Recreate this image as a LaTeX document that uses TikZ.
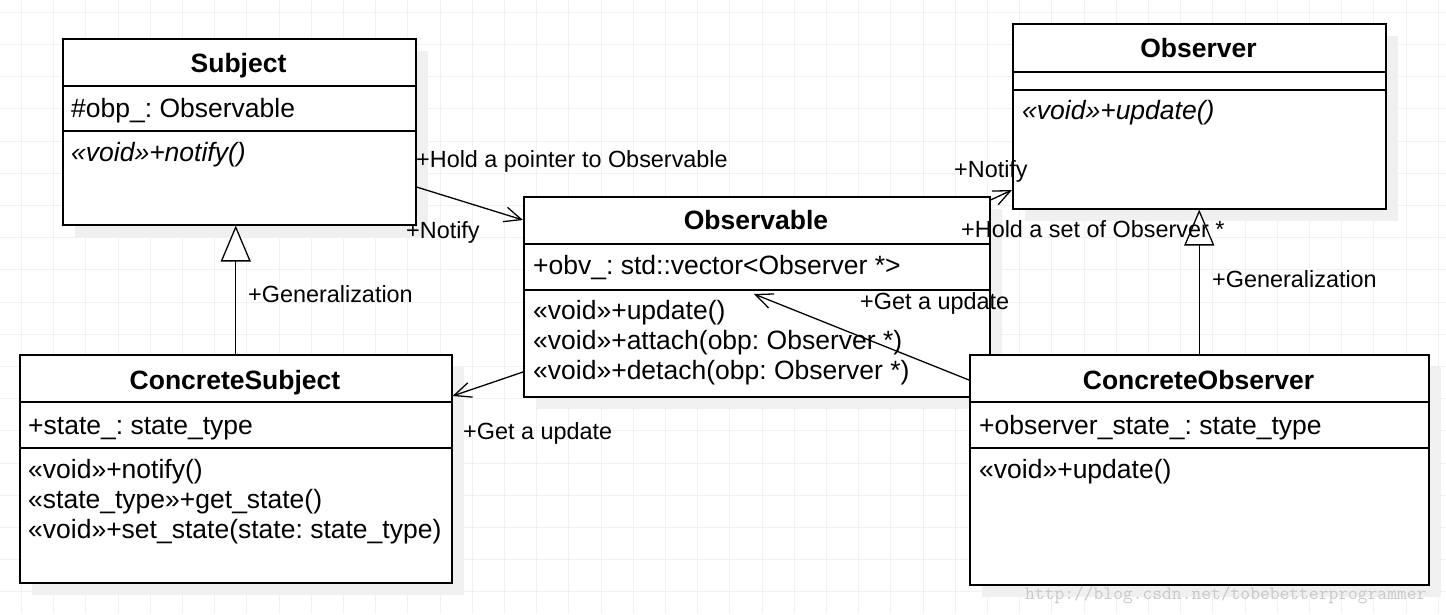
\documentclass[tikz,border=0pt]{standalone}
\usepackage{fontspec}
\setmainfont{Liberation Sans}
\usepackage{xcolor}
\usetikzlibrary{arrows.meta,shadows}
\frenchspacing
\definecolor{gridgray}{RGB}{241,241,241}
\definecolor{shadowgray}{RGB}{240,240,240}
\definecolor{wmgray}{RGB}{200,200,200}
\tikzstyle{cls} = [rectangle, draw, line width=1.5pt, fill=white, anchor=north west, inner sep=0pt, drop shadow={shadow xshift=12pt, shadow yshift=-12pt, fill=shadowgray, opacity=1}]
\tikzstyle{divider} = [draw, line width=1.5pt]
\tikzstyle{title} = [font=\fontsize{26.5}{30}\selectfont\bfseries, anchor=base, inner sep=0pt]
\tikzstyle{member} = [font=\fontsize{26.5}{30}\selectfont, anchor=base west, inner sep=0pt]
\tikzstyle{lbl} = [font=\fontsize{23.4}{28}\selectfont, anchor=base west, inner sep=0pt]
\tikzstyle{line} = [draw, line width=1.3pt, -{Straight Barb[length=17pt,width=15pt]}]
\tikzstyle{gen} = [draw, line width=1.3pt, -{Triangle[open,fill=white,length=36pt,width=30pt]}]
\tikzstyle{gridline} = [draw=gridgray, line width=1pt]

\begin{document}
\begin{tikzpicture}[x=1pt,y=-1pt]
\useasboundingbox (0,0) rectangle (1446,614);
\fill[white] (0,0) rectangle (1446,614);
% grid
\foreach \i in {0,...,44}
  \draw[gridline] (21.5+32.2*\i,0) -- (21.5+32.2*\i,614);
\foreach \j in {0,...,18}
  \draw[gridline] (0,12.3+32.2*\j) -- (1446,12.3+32.2*\j);

% Subject
\node [cls, minimum width=353pt, minimum height=186pt] (subject) at (62,38) {};
\path [divider] (subject.north west) ++(0,48) -- ++(353,0);
\path [divider] (subject.north west) ++(0,93) -- ++(353,0);
\node [title] (subjectT) at (238.5,72) {Subject};
\node [member] (subjectA) at (71,117) {\#obp\_: Observable};
\node [member, font=\fontsize{26.5}{30}\selectfont\itshape] (subjectM) at (71,161) {«void»+notify()};

% Observable
\node [cls, minimum width=466pt, minimum height=200pt] (observable) at (523,196) {};
\path [divider] (observable.north west) ++(0,48) -- ++(466,0);
\path [divider] (observable.north west) ++(0,94) -- ++(466,0);
\node [title] (observableT) at (756,229) {Observable};
\node [member] (observableA) at (533,274) {+obv\_: std::vector<Observer *>};
\node [member] (observableM1) at (533,319) {«void»+update()};
\node [member] (observableM2) at (533,349) {«void»+attach(obp: Observer *)};
\node [member] (observableM3) at (533,379) {«void»+detach(obp: Observer *)};

% Observer
\node [cls, minimum width=373pt, minimum height=185pt] (observer) at (1012,23) {};
\path [divider] (observer.north west) ++(0,49) -- ++(373,0);
\path [divider] (observer.north west) ++(0,67) -- ++(373,0);
\node [title] (observerT) at (1198.5,57) {Observer};
\node [member, font=\fontsize{26.5}{30}\selectfont\itshape] (observerM) at (1022,119) {«void»+update()};

% ConcreteSubject
\node [cls, minimum width=432pt, minimum height=228pt] (csubject) at (19,354) {};
\path [divider] (csubject.north west) ++(0,48) -- ++(432,0);
\path [divider] (csubject.north west) ++(0,94) -- ++(432,0);
\node [title] (csubjectT) at (235,389) {ConcreteSubject};
\node [member] (csubjectA) at (28,434) {+state\_: state\_type};
\node [member] (csubjectM1) at (28,478) {«void»+notify()};
\node [member] (csubjectM2) at (28,508) {«state\_type»+get\_state()};
\node [member] (csubjectM3) at (28,538) {«void»+set\_state(state: state\_type)};

% ConcreteObserver
\node [cls, minimum width=459pt, minimum height=230pt] (cobserver) at (969,354) {};
\path [divider] (cobserver.north west) ++(0,48) -- ++(459,0);
\path [divider] (cobserver.north west) ++(0,94) -- ++(459,0);
\node [title] (cobserverT) at (1198.5,389) {ConcreteObserver};
\node [member] (cobserverA) at (979,434) {+observer\_state\_: state\_type};
\node [member] (cobserverM) at (979,478) {«void»+update()};

% connectors
\path [line] ([yshift=-149pt]subject.north east) -- ([yshift=-24pt]observable.north west);
\path [line] ([yshift=-4pt]observable.north east) -- ([yshift=-167pt]observer.north west);
\path [line] ([yshift=-26pt]cobserver.north west) -- ([xshift=231pt,yshift=-98pt]observable.north west);
\path [line] ([yshift=-176pt]observable.north west) -- ([yshift=-42pt]csubject.north east);
\path [gen] (csubject.north) -- (csubject.north |- subject.south);
\path [gen] (cobserver.north) -- (observer.south);

% labels
\node [lbl] (l1) at (416,167) {+Hold a pointer to Observable};
\node [lbl] (l2) at (406,238) {+Notify};
\node [lbl] (l3) at (954,177) {+Notify};
\node [lbl] (l4) at (961,237) {+Hold a set of Observer *};
\node [lbl] (l5) at (860,309) {+Get a update};
\node [lbl] (l6) at (463,439) {+Get a update};
\node [lbl] (l7) at (248,302) {+Generalization};
\node [lbl] (l8) at (1212,287) {+Generalization};
\node [anchor=base west, inner sep=0pt, font=\fontsize{19}{22}\selectfont\ttfamily, text=wmgray] (wmark) at (1025,599) {http://blog.csdn.net/tobebetterprogrammer};
\end{tikzpicture}
\end{document}
